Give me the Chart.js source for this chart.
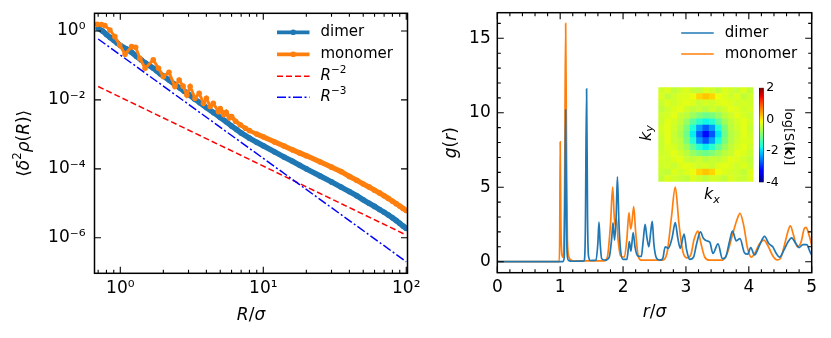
<!DOCTYPE html>
<html lang="en">
<head>
<meta charset="UTF-8" />
<title>Density fluctuations and g(r): dimer vs monomer</title>
<script src="https://cdn.jsdelivr.net/npm/chart.js@4.4.1/dist/chart.umd.min.js"></script>
<style>
  html, body { margin: 0; padding: 0; background: #fff; }
  #wrap { position: relative; width: 831px; height: 338px; overflow: hidden; }
  canvas { position: absolute; }
</style>
</head>
<body>
<div id="wrap">
  <canvas id="fluct" width="440" height="338" style="left:0;top:0"></canvas>
  <canvas id="gofr" width="416" height="338" style="left:415px;top:0"></canvas>
  <canvas id="sk" width="130" height="130" style="left:628px;top:80px"></canvas>
  <canvas id="cbar" width="70" height="120" style="left:755px;top:80px"></canvas>
</div>
<script>
// ---- left panel: <d^2 rho(R)> against R/sigma (log-log) ----
const rDimer = [0.70, 0.75, 0.80, 0.85, 0.90, 0.95, 1.0, 1.1, 1.2, 1.3, 1.4, 1.5, 1.6, 1.7, 1.8, 1.9, 2.0,
  2.2, 2.4, 2.6, 2.8, 3.0, 3.3, 3.6, 4.0, 4.5, 5.0, 5.5, 6.0, 6.5, 7.0, 8, 9, 10, 12, 14, 16,
  18, 20, 25, 30, 35, 40, 45, 50, 55, 60, 65, 70, 75, 80, 85, 90, 95, 100];
const varDimer = [1.20, 1.00, 0.794, 0.646, 0.537, 0.447, 0.380, 0.302, 0.240, 0.182, 0.145, 0.117, 0.100, 0.0832, 0.0692, 0.0575, 0.0490,
  0.0372, 0.0282, 0.0224, 0.0178, 0.0145, 0.0107, 0.00832, 0.00603, 0.00427, 0.00309, 0.00234, 0.00174, 0.00138, 0.00110, 7.76e-4, 5.89e-4, 4.68e-4, 3.09e-4, 2.19e-4, 1.66e-4,
  1.26e-4, 1.0e-4, 6.17e-5, 4.17e-5, 2.95e-5, 2.19e-5, 1.66e-5, 1.26e-5, 1.0e-5, 8.13e-6, 6.61e-6, 5.50e-6, 4.57e-6, 3.80e-6, 3.16e-6, 2.63e-6, 2.19e-6, 1.86e-6];

const rMono = [0.69, 0.74, 0.78, 0.846, 0.916, 0.99, 1.08, 1.2, 1.28, 1.37, 1.49, 1.70, 1.85, 2.0, 2.19, 2.41, 2.58, 2.75, 2.92, 3.08,
  3.33, 3.56, 3.82, 4.0, 4.25, 4.47, 4.86, 5.0, 5.3, 5.5, 5.8, 6.0, 6.4, 6.9, 7.5, 8, 9, 10, 12, 14,
  16, 18, 20, 25, 30, 35, 40, 45, 50, 55, 60, 65, 70, 75, 80, 85, 90, 95, 100];
const varMono = [1.56, 1.55, 1.43, 1.07, 0.684, 0.393, 0.211, 0.351, 0.337, 0.162, 0.0832, 0.145, 0.0832, 0.0479, 0.0631, 0.0245, 0.0380, 0.0251, 0.0138, 0.0245,
  0.0112, 0.0155, 0.00794, 0.0112, 0.00646, 0.00794, 0.00457, 0.00562, 0.00380, 0.00437, 0.00302, 0.00331, 0.00240, 0.00191, 0.00151, 0.00129, 1.02e-3, 8.51e-4, 6.03e-4, 4.57e-4,
  3.55e-4, 2.88e-4, 2.40e-4, 1.58e-4, 1.12e-4, 8.32e-5, 6.03e-5, 4.68e-5, 3.63e-5, 2.95e-5, 2.40e-5, 2.00e-5, 1.66e-5, 1.38e-5, 1.15e-5, 9.77e-6, 8.32e-6, 7.08e-6, 6.17e-6];

// guide lines R^-2 and R^-3
const rGuide = [0.7, 100];
const guideR2 = [0.0245, 1.2e-6];
const guideR3 = [0.586, 2.01e-7];

// ---- right panel: g(r) ----
const rgDimer = [0, 1.04, 1.065, 1.075, 1.087, 1.098, 1.11, 1.13, 1.2, 1.38, 1.40, 1.42, 1.435, 1.45, 1.48, 1.57, 1.60, 1.617, 1.635, 1.66,
  1.72, 1.78, 1.82, 1.84, 1.865, 1.89, 1.91, 1.935, 1.96, 2.0, 2.06, 2.085, 2.10, 2.125, 2.16, 2.19, 2.23, 2.29, 2.32, 2.35,
  2.38, 2.41, 2.44, 2.464, 2.49, 2.53, 2.58, 2.63, 2.67, 2.72, 2.78, 2.83, 2.87, 2.91, 2.97, 3.01, 3.06, 3.12, 3.17, 3.23,
  3.28, 3.33, 3.38, 3.43, 3.51, 3.58, 3.63, 3.69, 3.74, 3.80, 3.86, 3.93, 3.98, 4.03, 4.09, 4.17, 4.25, 4.32, 4.38, 4.43,
  4.49, 4.56, 4.62, 4.68, 4.75, 4.80, 4.86, 4.92, 4.97, 5.0];
const gDimer = [0, 0, 0.3, 4, 10.2, 4, 0.6, 0.1, 0.03, 0.05, 2, 11.6, 3, 0.4, 0.08, 0.1, 1.3, 2.65, 1.3, 0.2,
  0.1, 0.3, 1.6, 2.6, 1.45, 3.0, 5.7, 2.5, 0.8, 0.15, 0.15, 0.9, 1.35, 0.7, 1.95, 1.0, 0.4, 0.35, 1.4, 2.5,
  1.6, 1.0, 2.0, 2.7, 1.2, 0.25, 0.1, 0.2, 1.0, 0.9, 1.6, 2.62, 1.6, 0.9, 1.86, 0.8, 0.15, 0.3, 1.2, 2.0,
  1.55, 1.4, 1.3, 0.55, 1.2, 0.2, 0.3, 1.3, 2.05, 1.4, 1.55, 0.6, 0.5, 0.95, 0.45, 1.1, 1.7, 1.2, 1.0, 0.6,
  0.3, 0.8, 1.3, 1.6, 1.2, 0.95, 1.15, 1.15, 0.7, 0.45];

const rgMono = [0, 0.985, 0.993, 1.0, 1.01, 1.025, 1.05, 1.07, 1.087, 1.10, 1.115, 1.14, 1.2, 1.7, 1.75, 1.80, 1.835, 1.86, 1.875, 1.895,
  1.92, 1.96, 2.02, 2.06, 2.094, 2.12, 2.14, 2.17, 2.20, 2.24, 2.29, 2.62, 2.70, 2.77, 2.83, 2.89, 2.95, 3.02, 3.08, 3.13,
  3.19, 3.24, 3.30, 3.38, 3.58, 3.66, 3.74, 3.81, 3.86, 3.92, 3.98, 4.04, 4.10, 4.17, 4.24, 4.30, 4.38, 4.45, 4.50, 4.56,
  4.62, 4.66, 4.71, 4.77, 4.83, 4.88, 4.91, 4.95, 5.0];
const gMono = [0, 0, 2, 8.05, 3, 0.5, 0.3, 5, 16.0, 8, 1.5, 0.3, 0.05, 0.05, 0.3, 2.5, 5.0, 3.0, 2.4, 2.9,
  1.5, 0.4, 0.3, 1.5, 3.3, 2.2, 2.6, 3.7, 2.0, 0.4, 0.1, 0.1, 0.6, 3.0, 5.0, 2.5, 0.7, 0.25, 0.5, 1.5,
  2.05, 1.2, 0.3, 0.1, 0.1, 0.6, 1.8, 2.8, 3.25, 2.4, 0.9, 0.3, 0.6, 1.2, 1.45, 1.1, 0.4, 0.12, 0.2, 1.0,
  2.0, 2.4, 1.8, 1.0, 1.3, 2.2, 2.3, 1.9, 1.1];

// ---- inset: log S(k) on a coarse 15x15 grid (rows top to bottom) ----
const logSk = [
  [-0.4, -0.3, -0.5, -0.4, -0.3, -0.45, -0.5, -0.3, -0.4, -0.5, -0.3, -0.4, -0.45, -0.3, -0.5],
  [-0.3, -0.5, -0.4, -0.3, -0.3, -0.2, 0.1, 0.2, 0.1, -0.2, -0.3, -0.4, -0.3, -0.5, -0.4],
  [-0.45, -0.3, -0.4, -0.3, -0.25, -0.3, -0.45, -0.35, -0.4, -0.3, -0.25, -0.3, -0.4, -0.35, -0.4],
  [-0.5, -0.4, -0.3, -0.25, -0.4, -0.5, -0.45, -0.55, -0.4, -0.5, -0.4, -0.25, -0.3, -0.4, -0.35],
  [-0.4, -0.35, -0.25, -0.45, -0.55, -0.75, -0.95, -1.1, -1.0, -0.8, -0.55, -0.4, -0.25, -0.35, -0.45],
  [-0.45, -0.25, -0.35, -0.5, -0.8, -1.25, -1.6, -1.8, -1.65, -1.2, -0.75, -0.5, -0.35, -0.25, -0.4],
  [-0.35, -0.25, -0.4, -0.6, -1.0, -1.7, -2.3, -2.7, -2.35, -1.7, -1.0, -0.55, -0.4, -0.25, -0.45],
  [-0.4, -0.25, -0.45, -0.65, -1.1, -1.85, -2.7, -3.2, -2.75, -1.9, -1.1, -0.6, -0.45, -0.25, -0.4],
  [-0.45, -0.25, -0.45, -0.55, -1.0, -1.65, -2.35, -2.75, -2.3, -1.7, -1.0, -0.6, -0.4, -0.3, -0.35],
  [-0.45, -0.3, -0.35, -0.5, -0.75, -1.2, -1.65, -1.85, -1.6, -1.2, -0.8, -0.5, -0.35, -0.25, -0.4],
  [-0.4, -0.35, -0.25, -0.4, -0.55, -0.8, -1.0, -1.1, -0.95, -0.75, -0.55, -0.45, -0.25, -0.3, -0.45],
  [-0.35, -0.4, -0.3, -0.25, -0.45, -0.5, -0.4, -0.55, -0.45, -0.5, -0.4, -0.25, -0.3, -0.4, -0.5],
  [-0.4, -0.35, -0.45, -0.3, -0.25, -0.3, -0.4, -0.35, -0.45, -0.3, -0.25, -0.3, -0.4, -0.3, -0.45],
  [-0.45, -0.5, -0.3, -0.4, -0.3, -0.2, 0.1, 0.2, 0.1, -0.2, -0.3, -0.35, -0.4, -0.5, -0.3],
  [-0.5, -0.3, -0.4, -0.45, -0.5, -0.3, -0.4, -0.5, -0.35, -0.4, -0.5, -0.3, -0.4, -0.45, -0.3]
];
const CB_MIN = -4, CB_MAX = 2;

// ---- ticks ----
const fluctXMajor = [1, 10, 100];
const fluctXMinor = [0.7, 0.8, 0.9, 2, 3, 4, 5, 6, 7, 8, 9, 20, 30, 40, 50, 60, 70, 80, 90];
const fluctYMajor = [1e-6, 1e-4, 1e-2, 1];
const gofrXMajor = [0, 1, 2, 3, 4, 5];
const gofrXMinor = [0.2, 0.4, 0.6, 0.8, 1.2, 1.4, 1.6, 1.8, 2.2, 2.4, 2.6, 2.8, 3.2, 3.4, 3.6, 3.8, 4.2, 4.4, 4.6, 4.8];
const gofrYMajor = [0, 5, 10, 15];
const gofrYMinor = [1, 2, 3, 4, 6, 7, 8, 9, 11, 12, 13, 14, 16];
const cbarTicks = [-4, -2, 0, 2];

const BLUE = '#1f77b4', ORANGE = '#ff7f0e';
const FONT = '"DejaVu Sans"';
Chart.defaults.font.family = 'DejaVu Sans';
Chart.defaults.color = '#000';

const pts = (xs, ys) => xs.map((x, i) => ({ x, y: ys[i] }));
const SUP = { '-': '\u207B', '0': '\u2070', '1': '\u00B9', '2': '\u00B2', '3': '\u00B3', '4': '\u2074', '5': '\u2075', '6': '\u2076', '7': '\u2077', '8': '\u2078', '9': '\u2079' };
const pow10Label = v => '10' + String(Math.round(Math.log10(v))).split('').map(c => SUP[c]).join('');

// matplotlib jet
const JET = {
  r: [[0, 0], [0.35, 0], [0.66, 1], [0.89, 1], [1, 0.5]],
  g: [[0, 0], [0.125, 0], [0.375, 1], [0.64, 1], [0.91, 0], [1, 0]],
  b: [[0, 0.5], [0.11, 1], [0.34, 1], [0.65, 0], [1, 0]]
};
const JET_STOPS = [0, 0.11, 0.125, 0.34, 0.35, 0.375, 0.64, 0.65, 0.66, 0.89, 0.91, 1];
function seg(p, t) {
  for (let i = 1; i < p.length; i++) {
    if (t <= p[i][0]) return p[i - 1][1] + (p[i][1] - p[i - 1][1]) * (t - p[i - 1][0]) / (p[i][0] - p[i - 1][0]);
  }
  return p[p.length - 1][1];
}
function jet(v) {
  const t = Math.min(1, Math.max(0, (v - CB_MIN) / (CB_MAX - CB_MIN)));
  return `rgb(${Math.round(255 * seg(JET.r, t))},${Math.round(255 * seg(JET.g, t))},${Math.round(255 * seg(JET.b, t))})`;
}

// text with italic / bold / super- and subscript pieces
function rich(ctx, parts, x, y, size, align) {
  const fontFor = s => (s.includes('i') ? 'italic ' : '') + (s.includes('b') ? 'bold ' : '') +
    ((s.includes('^') || s.includes('_')) ? size * 0.7 : size) + 'px ' + FONT;
  let w = 0;
  for (const [t, s] of parts) { ctx.font = fontFor(s); w += ctx.measureText(t).width; }
  let cx = align === 'center' ? x - w / 2 : align === 'right' ? x - w : x;
  ctx.textAlign = 'left';
  for (const [t, s] of parts) {
    ctx.font = fontFor(s);
    const dy = s.includes('^') ? -size * 0.4 : s.includes('_') ? size * 0.22 : 0;
    ctx.fillText(t, cx, y + dy);
    cx += ctx.measureText(t).width;
  }
}

function frameTicks(cfg) {
  return {
    id: 'frameTicks',
    afterDatasetsDraw(chart) {
      const { ctx, chartArea: a, scales: { x, y } } = chart;
      ctx.save();
      ctx.strokeStyle = '#000';
      ctx.lineWidth = 1.1;
      ctx.beginPath();
      const vx = (vals, len) => vals.forEach(v => {
        const p = x.getPixelForValue(v);
        ctx.moveTo(p, a.bottom); ctx.lineTo(p, a.bottom - len);
        ctx.moveTo(p, a.top); ctx.lineTo(p, a.top + len);
      });
      const vy = (vals, len) => vals.forEach(v => {
        const p = y.getPixelForValue(v);
        ctx.moveTo(a.left, p); ctx.lineTo(a.left + len, p);
        ctx.moveTo(a.right, p); ctx.lineTo(a.right - len, p);
      });
      vx(cfg.xMajor, 6.5); vx(cfg.xMinor || [], 3.5);
      vy(cfg.yMajor, 6.5); vy(cfg.yMinor || [], 3.5);
      ctx.stroke();
      ctx.lineWidth = 1.5;
      ctx.strokeRect(a.left, a.top, a.right - a.left, a.bottom - a.top);
      ctx.restore();
    }
  };
}

function axisTitles(cfg) {
  return {
    id: 'axisTitles',
    afterDraw(chart) {
      const { ctx, chartArea: a } = chart;
      ctx.save();
      ctx.fillStyle = '#000';
      ctx.textBaseline = 'alphabetic';
      rich(ctx, cfg.x, (a.left + a.right) / 2, a.bottom + cfg.xOffset, cfg.size, 'center');
      ctx.translate(cfg.yX, (a.top + a.bottom) / 2);
      ctx.rotate(-Math.PI / 2);
      ctx.textBaseline = 'middle';
      rich(ctx, cfg.y, 0, 0, cfg.size, 'center');
      ctx.restore();
    }
  };
}

function cornerLegend(items) {
  return {
    id: 'cornerLegend',
    afterDraw(chart) {
      const { ctx, chartArea: a } = chart;
      ctx.save();
      items.forEach(it => {
        const ds = chart.data.datasets[it.ds];
        const y = a.top + it.dy;
        const x1 = a.right - 130.5, x2 = a.right - 98;
        ctx.strokeStyle = ds.borderColor;
        ctx.lineWidth = it.width || ds.borderWidth;
        ctx.setLineDash(ds.borderDash || []);
        ctx.beginPath(); ctx.moveTo(x1, y); ctx.lineTo(x2, y); ctx.stroke();
        ctx.setLineDash([]);
        if (ds.pointRadius) {
          ctx.fillStyle = ds.borderColor;
          ctx.beginPath(); ctx.arc((x1 + x2) / 2, y, ds.pointRadius, 0, 2 * Math.PI); ctx.fill();
        }
        ctx.fillStyle = '#000';
        ctx.textBaseline = 'middle';
        rich(ctx, it.label, a.right - 87, y, 15, 'left');
      });
      ctx.restore();
    }
  };
}

const flatScale = (w, h) => s => {
  if (w !== undefined) s.width = w;
  if (h !== undefined) s.height = h;
  s.paddingLeft = 0; s.paddingRight = 0; s.paddingTop = 0; s.paddingBottom = 0;
};
const tickFont = { family: 'DejaVu Sans', size: 17 };

// ---------- left chart ----------
new Chart(document.getElementById('fluct'), {
  type: 'line',
  data: {
    datasets: [
      { label: 'R^-3', data: pts(rGuide, guideR3), borderColor: '#0000ff', borderWidth: 1.5, borderDash: [9, 2.5, 2, 2.5], pointRadius: 0 },
      { label: 'R^-2', data: pts(rGuide, guideR2), borderColor: '#ff0000', borderWidth: 1.5, borderDash: [6, 3], pointRadius: 0 },
      { label: 'monomer', data: pts(rMono, varMono), borderColor: ORANGE, backgroundColor: ORANGE, pointBackgroundColor: ORANGE,
        borderWidth: 5, pointRadius: 2.8, pointBorderWidth: 0,
        segment: { borderWidth: c => (c.p0.parsed.x < 5 ? 3 : c.p0.parsed.x < 9 ? 4.2 : 5.2) } },
      { label: 'dimer', data: pts(rDimer, varDimer), borderColor: BLUE, backgroundColor: BLUE, pointBackgroundColor: BLUE,
        borderWidth: 5.5, pointRadius: 2.8, pointBorderWidth: 0 }
    ]
  },
  options: {
    responsive: false, animation: false, events: [],
    layout: { padding: { top: 13.3, right: 32.5, left: 0, bottom: 0 } },
    scales: {
      x: {
        type: 'logarithmic', min: 0.66, max: 102,
        afterBuildTicks: s => { s.ticks = fluctXMajor.map(v => ({ value: v })); },
        afterFit: flatScale(undefined, 64.7),
        grid: { display: false, drawTicks: false }, border: { display: false },
        ticks: { callback: v => pow10Label(v), font: tickFont, color: '#000', padding: 5, autoSkip: false, maxRotation: 0 }
      },
      y: {
        type: 'logarithmic', min: 9.3e-8, max: 3.26,
        afterBuildTicks: s => { s.ticks = fluctYMajor.map(v => ({ value: v })); },
        afterFit: flatScale(94.5, undefined),
        grid: { display: false, drawTicks: false }, border: { display: false },
        ticks: { callback: v => pow10Label(v), font: tickFont, color: '#000', padding: 9, autoSkip: false }
      }
    },
    plugins: { legend: { display: false }, tooltip: { enabled: false } }
  },
  plugins: [
    frameTicks({ xMajor: fluctXMajor, xMinor: fluctXMinor, yMajor: fluctYMajor }),
    axisTitles({
      size: 17, xOffset: 46.7, yX: 25,
      x: [['R', 'i'], ['/', ''], ['\u03C3', 'i']],
      y: [['\u27E8', ''], ['\u03B4', 'i'], ['2', '^'], ['\u03C1', 'i'], ['(', ''], ['R', 'i'], [')', ''], ['\u27E9', '']]
    }),
    cornerLegend([
      { ds: 3, dy: 19, width: 3.7, label: [['dimer', '']] },
      { ds: 2, dy: 41, width: 3.7, label: [['monomer', '']] },
      { ds: 1, dy: 63, label: [['R', 'i'], ['\u22122', '^']] },
      { ds: 0, dy: 84, label: [['R', 'i'], ['\u22123', '^']] }
    ])
  ]
});

// ---------- right chart ----------
new Chart(document.getElementById('gofr'), {
  type: 'line',
  data: {
    datasets: [
      { label: 'dimer', data: pts(rgDimer, gDimer), borderColor: BLUE, borderWidth: 1.7, pointRadius: 0, cubicInterpolationMode: 'monotone' },
      { label: 'monomer', data: pts(rgMono, gMono), borderColor: ORANGE, borderWidth: 1.7, pointRadius: 0, cubicInterpolationMode: 'monotone' }
    ]
  },
  options: {
    responsive: false, animation: false, events: [],
    layout: { padding: { top: 12.7, right: 19.3, left: 0, bottom: 0 } },
    scales: {
      x: {
        type: 'linear', min: 0, max: 5,
        afterBuildTicks: s => { s.ticks = gofrXMajor.map(v => ({ value: v })); },
        afterFit: flatScale(undefined, 65.3),
        grid: { display: false, drawTicks: false }, border: { display: false },
        ticks: { callback: v => String(v), font: tickFont, color: '#000', padding: 4.6, autoSkip: false, maxRotation: 0 }
      },
      y: {
        type: 'linear', min: -0.74, max: 16.72,
        afterBuildTicks: s => { s.ticks = gofrYMajor.map(v => ({ value: v })); },
        afterFit: flatScale(82.3, undefined),
        grid: { display: false, drawTicks: false }, border: { display: false },
        ticks: { callback: v => String(v), font: tickFont, color: '#000', padding: 6.6, autoSkip: false }
      }
    },
    plugins: { legend: { display: false }, tooltip: { enabled: false } }
  },
  plugins: [
    frameTicks({ xMajor: gofrXMajor, xMinor: gofrXMinor, yMajor: gofrYMajor, yMinor: gofrYMinor }),
    axisTitles({
      size: 17, xOffset: 44.5, yX: 36.2,
      x: [['r', 'i'], ['/', ''], ['\u03C3', 'i']],
      y: [['g', 'i'], ['(', ''], ['r', 'i'], [')', '']]
    }),
    cornerLegend([
      { ds: 0, dy: 20.3, label: [['dimer', '']] },
      { ds: 1, dy: 41.3, label: [['monomer', '']] }
    ])
  ]
});

// ---------- inset: S(k) map ----------
const skCells = [];
logSk.forEach((row, i) => row.forEach((v, j) => skCells.push({ x: j, y: i, v })));
const nSk = logSk.length;
new Chart(document.getElementById('sk'), {
  type: 'scatter',
  data: {
    datasets: [{
      data: skCells,
      pointStyle: 'rect',
      pointBorderWidth: 0,
      pointRadius: c => {
        const a = c.chart.chartArea;
        return a ? (a.right - a.left) / nSk / Math.SQRT2 + 0.35 : 4.5;
      },
      pointBackgroundColor: c => (c.raw ? jet(c.raw.v) : '#000')
    }]
  },
  options: {
    responsive: false, animation: false, events: [],
    layout: { padding: { left: 30.3, top: 7.3, right: 4, bottom: 28.3 } },
    scales: {
      x: { type: 'linear', min: -0.5, max: nSk - 0.5, display: false },
      y: { type: 'linear', min: -0.5, max: nSk - 0.5, reverse: true, display: false }
    },
    plugins: { legend: { display: false }, tooltip: { enabled: false } }
  },
  plugins: [{
    id: 'kLabels',
    afterDraw(chart) {
      const { ctx, chartArea: a } = chart;
      ctx.save();
      ctx.fillStyle = '#000';
      ctx.textBaseline = 'alphabetic';
      rich(ctx, [['k', 'i'], ['x', 'i_']], (a.left + a.right) / 2 + 6, a.bottom + 17.3, 16, 'center');
      ctx.translate(a.left - 11.3, (a.top + a.bottom) / 2 - 1.5);
      ctx.rotate(-Math.PI / 2);
      ctx.textBaseline = 'middle';
      rich(ctx, [['k', 'i'], ['y', 'i_']], 0, 0, 16, 'center');
      ctx.restore();
    }
  }]
});

// ---------- inset colour bar ----------
new Chart(document.getElementById('cbar'), {
  type: 'bar',
  data: {
    labels: ['logS'],
    datasets: [{
      data: [[CB_MIN, CB_MAX]],
      barPercentage: 1, categoryPercentage: 1,
      borderColor: '#000', borderWidth: 0.8, borderSkipped: false,
      backgroundColor: c => {
        const chart = c.chart;
        if (!chart.chartArea) return null;
        const y = chart.scales.y;
        const g = chart.ctx.createLinearGradient(0, y.getPixelForValue(CB_MIN), 0, y.getPixelForValue(CB_MAX));
        JET_STOPS.forEach(t => g.addColorStop(t, jet(CB_MIN + t * (CB_MAX - CB_MIN))));
        return g;
      }
    }]
  },
  options: {
    responsive: false, animation: false, events: [],
    layout: { padding: { left: 4, top: 7.7, right: 0, bottom: 17.5 } },
    scales: {
      x: { display: false },
      y: {
        position: 'right', min: CB_MIN, max: CB_MAX,
        afterBuildTicks: s => { s.ticks = cbarTicks.map(v => ({ value: v })); },
        afterFit: flatScale(61.3, undefined),
        grid: { display: false, drawTicks: false }, border: { display: false },
        ticks: { callback: v => String(v), font: { family: 'DejaVu Sans', size: 12.5 }, color: '#000', padding: 2.5, autoSkip: false }
      }
    },
    plugins: { legend: { display: false }, tooltip: { enabled: false } }
  },
  plugins: [{
    id: 'cbarTitle',
    afterDraw(chart) {
      const { ctx } = chart;
      ctx.save();
      ctx.fillStyle = '#000';
      ctx.translate(33.3, 56.7);
      ctx.rotate(Math.PI / 2);
      ctx.textBaseline = 'middle';
      rich(ctx, [['log[S(', ''], ['k', 'b'], [')]', '']], 0, 0, 13, 'center');
      ctx.restore();
    }
  }]
});
</script>
</body>
</html>
